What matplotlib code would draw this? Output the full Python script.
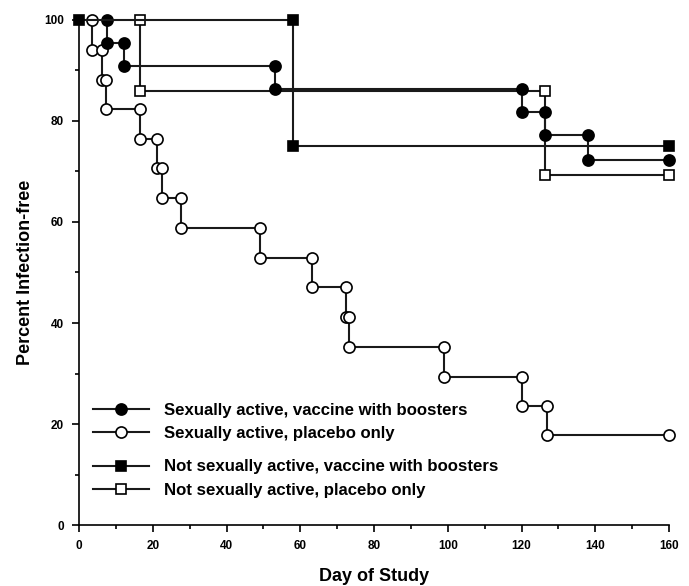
import numpy as np
import matplotlib.pyplot as plt
from matplotlib.ticker import MultipleLocator

plt.rcParams['font.family'] = ['Liberation Sans', 'DejaVu Sans']
plt.rcParams['font.weight'] = 'bold'

# Sexually active, vaccine with boosters
sa_vac_x = [7.5, 7.5, 12.2, 12.2, 53.2, 53.2, 120.0, 120.0, 126.4, 126.4, 138.1, 138.1, 160.0]
sa_vac_y = [100, 95.4, 95.4, 90.9, 90.9, 86.3, 86.3, 81.8, 81.8, 77.3, 77.3, 72.3, 72.3]

# Sexually active, placebo only
sa_pla_x = [3.4, 3.4, 6.1, 6.1, 7.4, 7.4, 16.4, 16.4, 21.1, 21.1, 22.4, 22.4, 27.6, 27.6,
            49.1, 49.1, 63.3, 63.3, 72.4, 72.4, 73.1, 73.1, 99.0, 99.0, 120.0, 120.0,
            127.0, 127.0, 160.0]
sa_pla_y = [100, 94.1, 94.1, 88.2, 88.2, 82.4, 82.4, 76.5, 76.5, 70.6, 70.6, 64.7, 64.7,
            58.8, 58.8, 52.9, 52.9, 47.1, 47.1, 41.2, 41.2, 35.3, 35.3, 29.4, 29.4, 23.5,
            23.5, 17.8, 17.8]

# Not sexually active, vaccine with boosters
ns_vac_x = [0.0, 58.1, 58.1, 160.0]
ns_vac_y = [100, 100, 75.0, 75.0]

# Not sexually active, placebo only
ns_pla_x = [16.4, 16.4, 126.4, 126.4, 160.0]
ns_pla_y = [100, 85.9, 85.9, 69.3, 69.3]

fig = plt.figure(figsize=(6.89, 5.86), dpi=100)
ax = fig.add_axes([0.1147, 0.104, 0.8563, 0.862])

lc = '#1a1a1a'
common = dict(color=lc, lw=1.5, clip_on=False, markeredgecolor='black', markeredgewidth=1.2)

l1, = ax.plot(sa_vac_x, sa_vac_y, marker='o', ms=8, markerfacecolor='black', zorder=4, **common)
l2, = ax.plot(sa_pla_x, sa_pla_y, marker='o', ms=8, markerfacecolor='white', zorder=3, **common)
l3, = ax.plot(ns_vac_x, ns_vac_y, marker='s', ms=7, markerfacecolor='black', zorder=5, **common)
l4, = ax.plot(ns_pla_x, ns_pla_y, marker='s', ms=7, markerfacecolor='white', zorder=3, **common)

ax.set_xlim(0, 160)
ax.set_ylim(0, 100)
ax.spines['top'].set_visible(False)
ax.spines['right'].set_visible(False)
ax.spines['left'].set_linewidth(1.2)
ax.spines['bottom'].set_linewidth(1.2)
ax.xaxis.set_major_locator(MultipleLocator(20))
ax.xaxis.set_minor_locator(MultipleLocator(10))
ax.yaxis.set_major_locator(MultipleLocator(20))
ax.yaxis.set_minor_locator(MultipleLocator(10))
ax.tick_params(which='major', length=5, width=1.2, labelsize=8.5, pad=6)
ax.tick_params(which='minor', length=3, width=1.2)
for lab in ax.get_xticklabels() + ax.get_yticklabels():
    lab.set_fontweight('bold')

ax.set_xlabel('Day of Study', fontsize=13, fontweight='bold', labelpad=11)
ax.set_ylabel('Percent Infection-free', fontsize=13, fontweight='bold', labelpad=7)

leg_kw = dict(frameon=False, fontsize=12.1, handlelength=3.3, handletextpad=0.9,
              borderpad=0, borderaxespad=0, labelspacing=0.5, loc='upper left')
leg1 = ax.legend([l1, l2], ['Sexually active, vaccine with boosters',
                            'Sexually active, placebo only'],
                 bbox_to_anchor=(0.024, 0.242), **leg_kw)
ax.add_artist(leg1)
ax.legend([l3, l4], ['Not sexually active, vaccine with boosters',
                     'Not sexually active, placebo only'],
          bbox_to_anchor=(0.024, 0.130), **leg_kw)

fig.savefig('out.png', dpi=100)
